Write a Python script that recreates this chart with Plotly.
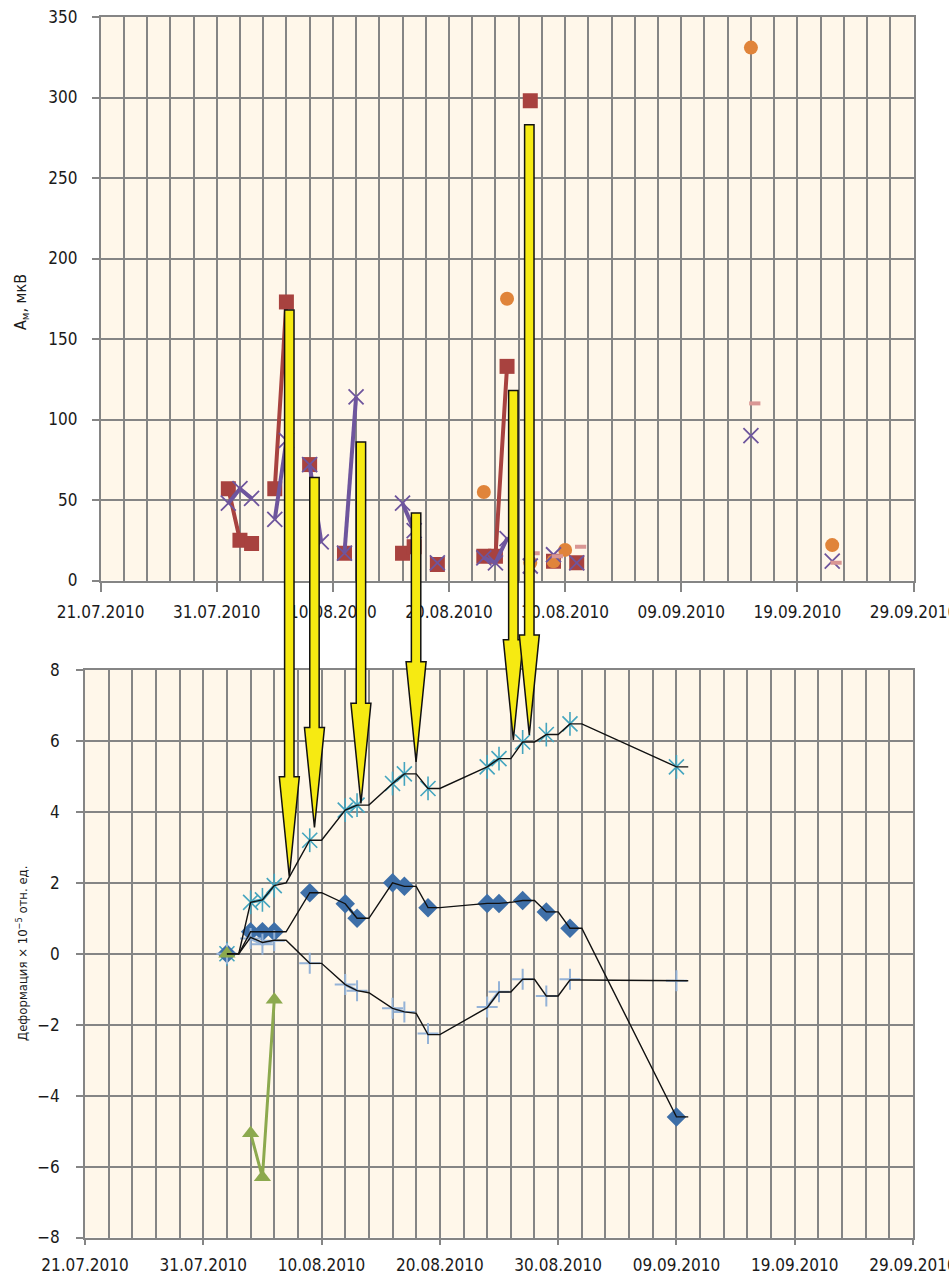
import plotly.graph_objects as go
import pandas as pd

# ---------------- DATA : top chart (A_m, µV) ----------------
red_dates = ["2010-08-01", "2010-08-02", "2010-08-03", "2010-08-04", "2010-08-05", "2010-08-06",
             "2010-08-07", "2010-08-08", "2010-08-09", "2010-08-11", "2010-08-12", "2010-08-16",
             "2010-08-17", "2010-08-18", "2010-08-19", "2010-08-20", "2010-08-23", "2010-08-24",
             "2010-08-25", "2010-08-26", "2010-08-27", "2010-08-28", "2010-08-29", "2010-08-30",
             "2010-08-31"]
red_vals = [57, 25, 23, None, 57, 173, None, 72, None, 17, None, 17,
            21, None, 10, None, 15, 15, 133, None, 298, None, 12, None, 11]

purple_dates = ["2010-08-01", "2010-08-02", "2010-08-03", "2010-08-04", "2010-08-05", "2010-08-06",
                "2010-08-07", "2010-08-08", "2010-08-09", "2010-08-10", "2010-08-11", "2010-08-12",
                "2010-08-13", "2010-08-16", "2010-08-17", "2010-08-18", "2010-08-19", "2010-08-20",
                "2010-08-23", "2010-08-24", "2010-08-25", "2010-08-26", "2010-08-27", "2010-08-28",
                "2010-08-29", "2010-08-30", "2010-08-31", "2010-09-01", "2010-09-15", "2010-09-16",
                "2010-09-22"]
purple_vals = [48, 57, 51, None, 38, 87, None, 72, 24, None, 17, 114,
               None, 48, 31, None, 11, None, 14, 11, 26, None, 9, None,
               16, None, 11, None, 90, None, 12]

orange_dates = ["2010-08-23", "2010-08-25", "2010-08-27", "2010-08-29", "2010-08-30", "2010-09-15", "2010-09-22"]
orange_vals = [55, 175, 11, 12, 19, 331, 22]

pink_dates = ["2010-08-27 08:00", "2010-08-29 08:00", "2010-08-31 08:00", "2010-09-15 08:00", "2010-09-22 08:00"]
pink_vals = [17, 15, 21, 110, 11]

# ---------------- DATA : bottom chart (strain x 1e-5) ----------------
strain_dates = ["2010-08-02", "2010-08-03", "2010-08-04", "2010-08-05", "2010-08-06", "2010-08-07",
                "2010-08-09", "2010-08-10", "2010-08-12", "2010-08-13", "2010-08-14", "2010-08-16",
                "2010-08-17", "2010-08-18", "2010-08-19", "2010-08-20", "2010-08-24", "2010-08-25",
                "2010-08-26", "2010-08-27", "2010-08-28", "2010-08-29", "2010-08-30", "2010-08-31",
                "2010-09-01", "2010-09-09", "2010-09-10"]
teal_vals = [0, None, 1.45, 1.52, 1.92, None, 3.2, None, 4.05, 4.19, None, 4.8,
             5.07, None, 4.66, None, 5.27, 5.5, None, 5.97, None, 6.18, None, 6.48,
             None, 5.27, None]
teal_trend = [0, 0, 1.45, 1.52, 1.92, 2.0, 3.2, 3.2, 4.05, 4.19, 4.19, 4.8,
              5.07, 5.07, 4.66, 4.66, 5.27, 5.5, 5.5, 5.97, 5.97, 6.18, 6.18, 6.48,
              6.48, 5.27, 5.27]
diamond_vals = [0, None, 0.62, 0.62, 0.62, None, 1.72, None, 1.41, 1.0, None, 2.0,
                1.9, None, 1.3, None, 1.42, 1.42, None, 1.5, None, 1.18, None, 0.72,
                None, -4.6, None]
diamond_trend = [0, 0, 0.62, 0.62, 0.62, 0.62, 1.72, 1.72, 1.41, 1.0, 1.0, 2.0,
                 1.9, 1.9, 1.3, 1.3, 1.42, 1.42, 1.45, 1.5, 1.5, 1.18, 1.18, 0.72,
                 0.72, -4.6, -4.6]
plus_vals = [0, None, 0.43, 0.27, 0.37, None, -0.27, None, -0.87, -1.04, None, -1.54,
             -1.64, None, -2.25, None, -1.5, -1.07, None, -0.72, None, -1.19, None, -0.72,
             None, -0.76, None]
plus_trend = [0, 0, 0.46, 0.32, 0.38, 0.38, -0.27, -0.27, -0.87, -1.04, -1.1, -1.54,
              -1.64, -1.68, -2.28, -2.28, -1.52, -1.08, -1.08, -0.72, -0.72, -1.19, -1.19, -0.74,
              -0.74, -0.76, -0.76]
green_vals = [0, None, -5.06, -6.3, -1.3, None, None, None, None, None, None, None,
              None, None, None, None, None, None, None, None, None, None, None, None,
              None, None, None]

# ---------------- arrows (top-chart date, top value in µV, tip value in strain units) ----
arrow_dates = ["2010-08-06 06:00", "2010-08-08 10:00", "2010-08-12 10:00",
               "2010-08-17 04:00", "2010-08-25 13:00", "2010-08-26 22:00"]
arrow_top = [168, 64, 86, 42, 118, 283]
arrow_tip = [2.17, 3.56, 4.24, 5.41, 6.03, 6.17]

# ---------------- layout geometry (pixels) ----------------
W, H = 949, 1275
X_START, X_END = "2010-07-21", "2010-09-29"
TOP_X = (100.6, 913.5)
TOP_Y = (17.0, 580.5)
BOT_X = (85.0, 913.0)
BOT_Y = (670.0, 1237.5)
TOP_RANGE = (0, 350)
BOT_RANGE = (-8, 8)

BG = "#FFF7EA"
GRID = "#858585"
FONT = "Liberation Sans Narrow, Arial Narrow, DejaVu Sans Condensed, sans-serif"

RED = "#A8423F"
PURPLE = "#6E559D"
ORANGE = "#E0843A"
PINK = "#D99694"
TEAL = "#45A5BF"
DBLUE = "#3E6FA8"
LBLUE = "#95B3D7"
GREEN = "#8CA94E"
YELLOW = "#F6EA12"

fig = go.Figure()

# top chart traces
fig.add_trace(go.Scatter(x=red_dates, y=red_vals, mode="lines+markers", xaxis="x", yaxis="y",
                         line=dict(color=RED, width=4), connectgaps=False,
                         marker=dict(symbol="square", size=15, color=RED)))
fig.add_trace(go.Scatter(x=orange_dates, y=orange_vals, mode="markers", xaxis="x", yaxis="y",
                         marker=dict(symbol="circle", size=14, color=ORANGE)))
fig.add_trace(go.Scatter(x=purple_dates, y=purple_vals, mode="lines+markers", xaxis="x", yaxis="y",
                         line=dict(color=PURPLE, width=4), connectgaps=False,
                         marker=dict(symbol="x-thin-open", size=15, color=PURPLE,
                                     line=dict(color=PURPLE, width=1.8))))
fig.add_trace(go.Scatter(x=pink_dates, y=pink_vals, mode="markers", xaxis="x", yaxis="y",
                         marker=dict(symbol="line-ew-open", size=8, color=PINK,
                                     line=dict(color=PINK, width=4))))

# bottom chart traces
fig.add_trace(go.Scatter(x=strain_dates, y=teal_vals, mode="lines+markers", xaxis="x2", yaxis="y2",
                         line=dict(color=TEAL, width=3), connectgaps=False,
                         marker=dict(symbol="x-thin-open", size=15, color=TEAL,
                                     line=dict(color=TEAL, width=1.6))))
fig.add_trace(go.Scatter(x=strain_dates, y=teal_vals, mode="markers", xaxis="x2", yaxis="y2",
                         marker=dict(symbol="line-ns-open", size=17, color=TEAL,
                                     line=dict(color=TEAL, width=1.6))))
fig.add_trace(go.Scatter(x=strain_dates, y=diamond_vals, mode="lines+markers", xaxis="x2", yaxis="y2",
                         line=dict(color=DBLUE, width=3), connectgaps=False,
                         marker=dict(symbol="diamond", size=15, color=DBLUE)))
fig.add_trace(go.Scatter(x=strain_dates, y=plus_vals, mode="lines+markers", xaxis="x2", yaxis="y2",
                         line=dict(color=LBLUE, width=3), connectgaps=False,
                         marker=dict(symbol="cross-thin-open", size=15, color=LBLUE,
                                     line=dict(color=LBLUE, width=2))))
fig.add_trace(go.Scatter(x=strain_dates, y=green_vals, mode="lines+markers", xaxis="x2", yaxis="y2",
                         line=dict(color=GREEN, width=3), connectgaps=False,
                         marker=dict(symbol="triangle-up", size=15, color=GREEN)))
for trend in (teal_trend, diamond_trend, plus_trend):
    fig.add_trace(go.Scatter(x=strain_dates, y=trend, mode="lines", xaxis="x2", yaxis="y2",
                             line=dict(color="#111111", width=1.4)))


# ---------------- arrows as shapes (paper coords computed from axes) ----------------
t0 = pd.Timestamp(X_START)
span_days = (pd.Timestamp(X_END) - t0).total_seconds() / 86400.0


def top_x_px(d):
    days = (pd.Timestamp(d) - t0).total_seconds() / 86400.0
    return TOP_X[0] + (TOP_X[1] - TOP_X[0]) * days / span_days


def top_y_px(v):
    return TOP_Y[1] - (TOP_Y[1] - TOP_Y[0]) * (v - TOP_RANGE[0]) / (TOP_RANGE[1] - TOP_RANGE[0])


def bot_y_px(v):
    return BOT_Y[1] - (BOT_Y[1] - BOT_Y[0]) * (v - BOT_RANGE[0]) / (BOT_RANGE[1] - BOT_RANGE[0])


def px2paper(x, y):
    return x / W, 1 - y / H


SHAFT_HW, HEAD_HW, HEAD_LEN = 4.7, 10.0, 100.0
shapes = []
for d, vt, vb in zip(arrow_dates, arrow_top, arrow_tip):
    cx = top_x_px(d)
    ytop = top_y_px(vt)
    ytip = bot_y_px(vb)
    ybase = ytip - HEAD_LEN
    pts = [(cx - SHAFT_HW, ytop), (cx - SHAFT_HW, ybase), (cx - HEAD_HW, ybase), (cx, ytip),
           (cx + HEAD_HW, ybase), (cx + SHAFT_HW, ybase), (cx + SHAFT_HW, ytop)]
    pp = [px2paper(*p) for p in pts]
    path = "M " + " L ".join(f"{a:.5f},{b:.5f}" for a, b in pp) + " Z"
    shapes.append(dict(type="path", xref="paper", yref="paper", path=path,
                       fillcolor=YELLOW, line=dict(color="#111111", width=1.5), layer="above"))

# ---------------- axes ----------------
DAY = 86400000
tickfont = dict(family=FONT, size=17, color="#1a1a1a")


def xaxis(dom, anchor, ticklen, standoff):
    return dict(domain=dom, anchor=anchor, type="date", range=[X_START, X_END],
                tick0=X_START, dtick=10 * DAY, tickformat="%d.%m.%Y",
                ticks="outside", ticklen=ticklen, tickwidth=1.5, tickcolor=GRID,
                showline=True, linecolor=GRID, linewidth=1.5, mirror=True,
                showgrid=True, gridcolor=GRID, gridwidth=1.5, zeroline=False,
                minor=dict(tick0=X_START, dtick=2 * DAY, showgrid=True, gridcolor=GRID, gridwidth=1.5),
                tickfont=tickfont, ticklabelstandoff=standoff, ticklabeloverflow="allow",
                automargin=False, fixedrange=True)


def yaxis(dom, anchor, rng, dt, standoff):
    return dict(domain=dom, anchor=anchor, range=list(rng), dtick=dt, tick0=0,
                ticks="outside", ticklen=7, tickwidth=1.5, tickcolor=GRID,
                showline=True, linecolor=GRID, linewidth=1.5, mirror=True,
                showgrid=True, gridcolor=GRID, gridwidth=1.5, zeroline=False,
                tickfont=tickfont, ticklabelstandoff=standoff, automargin=False, fixedrange=True)


fig.update_layout(
    width=W, height=H, margin=dict(l=0, r=0, t=0, b=0),
    paper_bgcolor="white", plot_bgcolor=BG, showlegend=False,
    font=dict(family=FONT, color="#1a1a1a"),
    xaxis=xaxis([TOP_X[0] / W, TOP_X[1] / W], "y", 10, 5),
    yaxis=yaxis([1 - TOP_Y[1] / H, 1 - TOP_Y[0] / H], "x", TOP_RANGE, 50, 11),
    xaxis2=xaxis([BOT_X[0] / W, BOT_X[1] / W], "y2", 6, 5),
    yaxis2=yaxis([1 - BOT_Y[1] / H, 1 - BOT_Y[0] / H], "x2", BOT_RANGE, 2, 13),
    shapes=shapes,
    annotations=[
        dict(text="A<sub>м</sub>, мкВ", xref="paper", yref="paper",
             x=22 / W, y=1 - 302 / H, xanchor="center", yanchor="middle",
             textangle=-90, showarrow=False,
             font=dict(family=FONT, size=16, color="#1a1a1a")),
        dict(text="Деформация × 10<sup>−5</sup> отн. ед.", xref="paper", yref="paper",
             x=22 / W, y=1 - 954 / H, xanchor="center", yanchor="middle",
             textangle=-90, showarrow=False,
             font=dict(family=FONT, size=13, color="#1a1a1a")),
    ],
)

fig.write_html("out.html", config={"displayModeBar": False},
               post_script="document.body.style.margin='0px';")
